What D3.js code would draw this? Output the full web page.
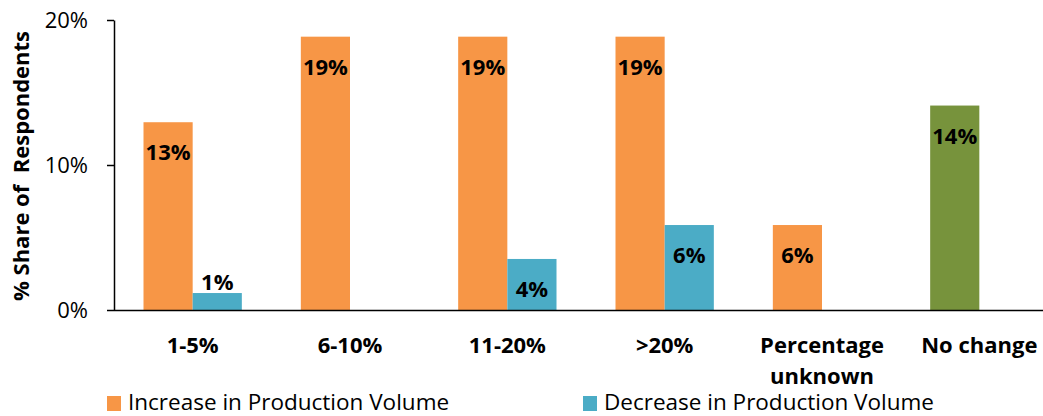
<!DOCTYPE html>
<html><head><meta charset="utf-8">
<script src="https://cdn.jsdelivr.net/npm/d3@7"></script>
<style>body{margin:0;background:#fff}svg{display:block;font-family:"Open Sans",sans-serif}</style>
</head><body>
<svg id="c" width="1043" height="416"></svg>
<script>
const categories = ["1-5%","6-10%","11-20%",">20%","Percentage\nunknown","No change"];
const increase = [12.95, 18.85, 18.85, 18.85, 5.86, 14.1];
const decrease = [1.17, null, 3.52, 5.86, null, null];
const seriesNames = ["Increase in Production Volume","Decrease in Production Volume"];
const yTicks = [0, 10, 20];

const colors = {inc:"#F79646", dec:"#4BACC6", nochange:"#77933C"};
const svg = d3.select("#c");
const x0 = d3.scaleBand().domain(categories).range([114,1058]).paddingInner(0.375).paddingOuter(0.1875);
const x1 = d3.scaleBand().domain(["inc","dec"]).range([0,x0.bandwidth()]);
const y = d3.scaleLinear().domain([0,20]).range([310,20]);

// y axis
const ya = svg.append("g").attr("transform","translate(114,0)")
  .call(d3.axisLeft(y).tickValues(yTicks).tickFormat(d=>d+"%").tickSize(7).tickSizeOuter(0));
ya.select(".domain").attr("stroke","#000").attr("stroke-width",1.5);
ya.selectAll(".tick line").attr("stroke","#000").attr("stroke-width",1.5);
ya.selectAll(".tick text").attr("font-size",22).attr("fill","#000").attr("x",-26).attr("dy","0.36em").attr("font-family","'Open Sans', sans-serif");

// bars
const data = [];
categories.forEach((c,i)=>{
  if(increase[i]!=null) data.push({c, k:"inc", v:increase[i], color: c==="No change"?colors.nochange:colors.inc});
  if(decrease[i]!=null) data.push({c, k:"dec", v:decrease[i], color: colors.dec});
});
svg.append("g").selectAll("rect").data(data).join("rect")
  .attr("x",d=>x0(d.c)+x1(d.k)).attr("width",x1.bandwidth())
  .attr("y",d=>y(d.v)).attr("height",d=>y(0)-y(d.v)).attr("fill",d=>d.color);

// x axis line
svg.append("line").attr("x1",114).attr("x2",1043).attr("y1",310.5).attr("y2",310.5).attr("stroke","#000").attr("stroke-width",1.5);

// data labels
svg.append("g").selectAll("text").data(data).join("text")
  .attr("x",d=>x0(d.c)+x1(d.k)+x1.bandwidth()/2)
  .attr("y",d=>{ const top=y(d.v); return (y(0)-top) < 40 ? top-3 : top+38; })
  .attr("text-anchor","middle").attr("font-weight","bold").attr("font-size",22).attr("fill","#000")
  .text(d=>Math.round(d.v)+"%");

// category labels
const cl = svg.append("g").selectAll("text").data(categories).join("text")
  .attr("x",d=>x0(d)+x0.bandwidth()/2).attr("y",353)
  .attr("text-anchor","middle").attr("font-weight","bold").attr("font-size",22).attr("fill","#000");
cl.each(function(d){
  const lines=d.split("\n"); const t=d3.select(this);
  lines.forEach((l,i)=>t.append("tspan").attr("x",t.attr("x")).attr("dy",i?31:0).text(l));
});

// y title
svg.append("text").attr("transform","translate(29,166) rotate(-90)")
  .attr("text-anchor","middle").attr("font-weight","bold").attr("font-size",22).attr("fill","#000")
  .attr("xml:space","preserve").style("white-space","pre").text("% Share of  Respondents");

// legend
const leg = [{n:seriesNames[0],c:colors.inc,x:107},{n:seriesNames[1],c:colors.dec,x:583}];
const lg = svg.append("g").selectAll("g").data(leg).join("g").attr("transform",d=>`translate(${d.x},0)`);
lg.append("rect").attr("x",0).attr("y",396).attr("width",14).attr("height",15).attr("fill",d=>d.c);
lg.append("text").attr("x",21).attr("y",410).attr("font-size",22.5).attr("fill","#000").text(d=>d.n);
</script>
</body></html>
